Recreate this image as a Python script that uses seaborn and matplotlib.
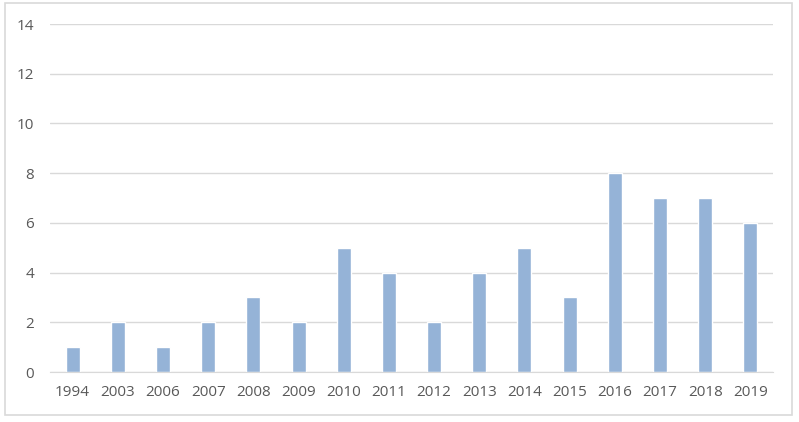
import numpy as np
import pandas as pd
import matplotlib
matplotlib.use("Agg")
import matplotlib.pyplot as plt
import seaborn as sns
from matplotlib.patches import Rectangle

# data
years = ["1994", "2003", "2006", "2007", "2008", "2009", "2010", "2011",
         "2012", "2013", "2014", "2015", "2016", "2017", "2018", "2019"]
counts = [1, 2, 1, 2, 3, 2, 5, 4, 2, 4, 5, 3, 8, 7, 7, 6]

df = pd.DataFrame({"year": years, "count": counts})

sns.set_style("white")
plt.rcParams["font.family"] = ["Open Sans", "DejaVu Sans"]

fig = plt.figure(figsize=(7.99, 4.22), dpi=100)
ax = fig.add_axes([50 / 799, 1 - 372 / 422, (773 - 50) / 799, (372 - 24) / 422])

sns.barplot(data=df, x="year", y="count", order=years, color="#95B3D7",
            saturation=1, width=0.31, ax=ax)

ax.set_ylim(0, 14)
ax.set_xlim(-0.5, len(years) - 0.5)
ax.set_yticks(range(0, 15, 2))
ax.yaxis.grid(True, color="#D9D9D9", linewidth=1)
ax.set_axisbelow(True)
for side in ["top", "right", "left"]:
    ax.spines[side].set_visible(False)
ax.spines["bottom"].set_color("#D9D9D9")
ax.tick_params(axis="both", length=0, labelsize=11, colors="#595959")
ax.tick_params(axis="x", pad=9.5)
ax.tick_params(axis="y", pad=11.5)
ax.set_xlabel("")
ax.set_ylabel("")

# light gray chart border
fig.patches.append(Rectangle((5 / 799, 1 - 415 / 422), (792 - 5) / 799, (415 - 3) / 422,
                             transform=fig.transFigure, fill=False,
                             edgecolor="#D9D9D9", linewidth=1.2))

fig.savefig("out.png", dpi=100)
